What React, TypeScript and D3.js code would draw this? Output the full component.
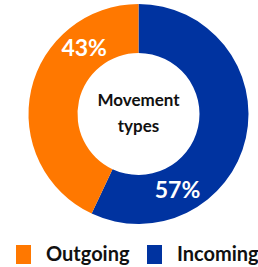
import { useEffect, useRef } from "react";
import * as d3 from "d3";

const categories = ["Incoming", "Outgoing"];
const shares = [57, 43];
const legendOrder = ["Outgoing", "Incoming"];
const centerLines = ["Movement", "types"];

const COLORS: Record<string, string> = {
  Incoming: "#0033A0",
  Outgoing: "#FF7800",
};
const FONT = "Lato, 'Open Sans', sans-serif";
const W = 258;
const H = 267;

export default function App() {
  const svgRef = useRef<SVGSVGElement>(null);

  useEffect(() => {
    if (!svgRef.current) return;
    const svg = d3.select(svgRef.current);
    svg.selectAll("*").remove();

    const cx = 138.5;
    const cy = 114;
    const outerR = 110;
    const innerR = 61;
    const labelR = (outerR + innerR) / 2;

    const data = categories.map((c, i) => ({ name: c, value: shares[i] }));
    const pie = d3.pie<{ name: string; value: number }>().sort(null).value((d) => d.value);
    const arcs = pie(data);
    const arc = d3.arc<d3.PieArcDatum<{ name: string; value: number }>>()
      .innerRadius(innerR).outerRadius(outerR);

    const g = svg.append("g").attr("transform", `translate(${cx},${cy})`);

    g.selectAll("path")
      .data(arcs)
      .join("path")
      .attr("d", arc)
      .attr("fill", (d) => COLORS[d.data.name]);

    // percent labels sit ~3/4 of the way along each slice
    const labelAngle = (d: d3.PieArcDatum<{ name: string; value: number }>) =>
      d.startAngle + (d.endAngle - d.startAngle) * 0.745;

    g.selectAll("text.pct")
      .data(arcs)
      .join("text")
      .attr("class", "pct")
      .attr("x", (d) => labelR * Math.sin(labelAngle(d)))
      .attr("y", (d) => -labelR * Math.cos(labelAngle(d)))
      .attr("dy", "0.35em")
      .attr("text-anchor", "middle")
      .style("font-family", FONT)
      .style("font-weight", "bold")
      .style("font-size", "23px")
      .style("fill", "#fff")
      .text((d) => `${d.data.value}%`);

    // center title
    g.selectAll("text.ctr")
      .data(centerLines)
      .join("text")
      .attr("class", "ctr")
      .attr("x", 0)
      .attr("y", (_, i) => -8 + i * 26)
      .attr("text-anchor", "middle")
      .style("font-family", FONT)
      .style("font-weight", "bold")
      .style("font-size", "17px")
      .style("fill", "#111")
      .text((d) => d);

    // legend
    const legend = svg.append("g").attr("transform", `translate(16,245)`);
    legendOrder.forEach((name, i) => {
      const lg = legend.append("g").attr("transform", `translate(${i * 131},0)`);
      lg.append("rect").attr("width", 15).attr("height", 19).attr("fill", COLORS[name]);
      lg.append("text")
        .attr("x", 30)
        .attr("y", 16)
        .style("font-family", FONT)
        .style("font-weight", "bold")
        .style("font-size", "20px")
        .style("fill", "#111")
        .text(name);
    });
  }, []);

  return (
    <div style={{ position: "absolute", left: 0, top: 0, width: W, height: H, background: "#fff" }}>
      <svg ref={svgRef} width={W} height={H} />
    </div>
  );
}
